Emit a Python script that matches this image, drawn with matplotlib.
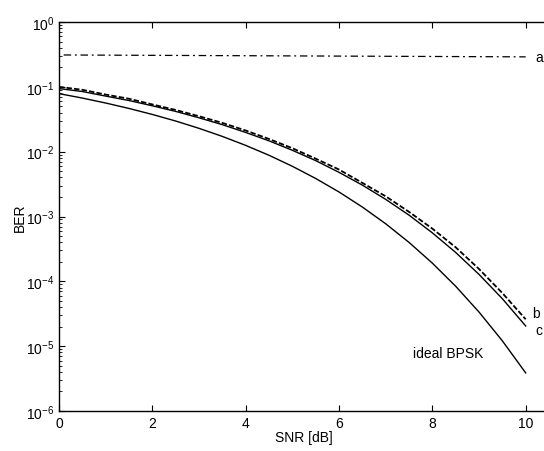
import matplotlib
matplotlib.use("Agg")
import matplotlib.pyplot as plt
from matplotlib.ticker import LogLocator, NullFormatter, FixedLocator

plt.rcParams['font.family'] = ['Liberation Sans', 'DejaVu Sans']
plt.rcParams['mathtext.fontset'] = 'custom'
plt.rcParams['mathtext.rm'] = 'Liberation Sans'

# SNR grid in dB (half-dB steps)
snr = [0, 0.5, 1, 1.5, 2, 2.5, 3, 3.5, 4, 4.5, 5, 5.5, 6, 6.5, 7, 7.5, 8, 8.5, 9, 9.5, 10]

# curve a: flat error floor
snr_a = [0.1, 10.0]
ber_a = [0.31, 0.29]

# curve b (dashed)
ber_b = [0.100, 0.0900, 0.0760, 0.0655, 0.0535, 0.0440, 0.0352, 0.0278, 0.0212,
         0.0157, 0.0113, 7.8e-3, 5.3e-3, 3.3e-3, 2.05e-3, 1.18e-3, 6.5e-4,
         3.35e-4, 1.55e-4, 6.6e-5, 2.6e-5]
# curve c (solid)
ber_c = [0.094, 0.0847, 0.0720, 0.0615, 0.0510, 0.0418, 0.0333, 0.0261, 0.0198,
         0.0147, 0.0105, 7.28e-3, 4.8e-3, 3.05e-3, 1.84e-3, 1.05e-3, 5.6e-4,
         2.79e-4, 1.28e-4, 5.4e-5, 2.05e-5]
# ideal BPSK reference curve
ber_ideal = [7.86e-2, 6.71e-2, 5.63e-2, 4.64e-2, 3.75e-2, 2.97e-2, 2.29e-2, 1.72e-2,
             1.25e-2, 8.8e-3, 5.95e-3, 3.86e-3, 2.39e-3, 1.40e-3, 7.73e-4, 3.99e-4,
             1.91e-4, 8.4e-5, 3.36e-5, 1.21e-5, 3.87e-6]

xticks = [0, 2, 4, 6, 8, 10]

fig = plt.figure(figsize=(5.44, 4.52), dpi=100)
ax = fig.add_axes([59 / 544, 40 / 452, 490 / 544, 389 / 452])

ax.plot(snr_a, ber_a, color='black', lw=0.9, linestyle=(0, (6, 3, 1.5, 3)))
ax.plot(snr, ber_b, color='black', lw=1.3, linestyle=(0, (3, 1.2)))
ax.plot(snr, ber_c, color='black', lw=1.0)
ax.plot(snr, ber_ideal, color='black', lw=1.0)

ax.set_yscale('log')
ax.set_xlim(0, 10.5)
ax.set_ylim(1e-6, 1)

ax.xaxis.set_major_locator(FixedLocator(xticks))
ax.set_xticklabels([str(v) for v in xticks])
ax.yaxis.set_major_locator(LogLocator(base=10, numticks=10))
ax.yaxis.set_minor_locator(LogLocator(base=10, subs=range(2, 10), numticks=20))
ax.yaxis.set_minor_formatter(NullFormatter())

ax.tick_params(axis='both', which='both', direction='in', top=True, right=False,
               labelsize=10, colors='black')
ax.tick_params(axis='both', which='major', length=4)
ax.tick_params(axis='y', which='minor', length=2)
ax.spines['right'].set_visible(False)
for s in ['left', 'bottom', 'top']:
    ax.spines[s].set_linewidth(1.0)

ax.set_xlabel('SNR [dB]', fontsize=10, labelpad=0)
ax.set_ylabel('BER', fontsize=10, labelpad=-1)

ax.text(10.21, 0.29, 'a', fontsize=10, va='center', ha='left')
ax.text(10.15, 3.2e-5, 'b', fontsize=10, va='center', ha='left')
ax.text(10.2, 1.8e-5, 'c', fontsize=10, va='center', ha='left')
ax.text(8.33, 7.8e-6, 'ideal BPSK', fontsize=10, va='center', ha='center')

fig.savefig('out.png', dpi=100)
